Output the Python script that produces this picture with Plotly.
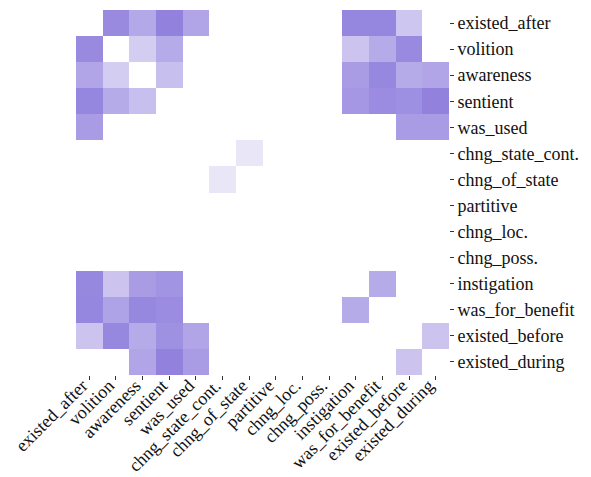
import plotly.graph_objects as go

labels = ["existed_after", "volition", "awareness", "sentient", "was_used",
          "chng_state_cont.", "chng_of_state", "partitive", "chng_loc.", "chng_poss.",
          "instigation", "was_for_benefit", "existed_before", "existed_during"]

row_existed_after   = [0, .94, .70, 1.0, .72, 0, 0, 0, 0, 0, .97, .97, .46, 0]
row_volition        = [.94, 0, .40, .67, 0, 0, 0, 0, 0, 0, .47, .67, .94, 0]
row_awareness       = [.72, .40, 0, .51, 0, 0, 0, 0, 0, 0, .79, .96, .67, .72]
row_sentient        = [.97, .67, .51, 0, 0, 0, 0, 0, 0, 0, .83, .92, .90, 1.0]
row_was_used        = [.79, 0, 0, 0, 0, 0, 0, 0, 0, 0, 0, 0, .79, .79]
row_chng_state_cont = [0, 0, 0, 0, 0, 0, .2, 0, 0, 0, 0, 0, 0, 0]
row_chng_of_state   = [0, 0, 0, 0, 0, .2, 0, 0, 0, 0, 0, 0, 0, 0]
row_partitive       = [0] * 14
row_chng_loc        = [0] * 14
row_chng_poss       = [0] * 14
row_instigation     = [.96, .47, .79, .86, 0, 0, 0, 0, 0, 0, 0, .67, 0, 0]
row_was_for_benefit = [.97, .74, .96, .92, 0, 0, 0, 0, 0, 0, .67, 0, 0, 0]
row_existed_before  = [.47, .96, .67, .88, .72, 0, 0, 0, 0, 0, 0, 0, 0, .47]
row_existed_during  = [0, 0, .72, 1.0, .79, 0, 0, 0, 0, 0, 0, 0, .47, 0]

z = [row_existed_after, row_volition, row_awareness, row_sentient, row_was_used,
     row_chng_state_cont, row_chng_of_state, row_partitive, row_chng_loc, row_chng_poss,
     row_instigation, row_was_for_benefit, row_existed_before, row_existed_during]

fig = go.Figure(go.Heatmap(
    z=z, x=labels, y=labels,
    zmin=0, zmax=1,
    colorscale=[[0, "#ffffff"], [1, "#9282de"]],
    showscale=False,
))

font = dict(family="Liberation Serif", size=18, color="#111111")
fig.update_layout(
    width=583, height=469,
    margin=dict(l=68, r=142, t=2, b=102),
    paper_bgcolor="white", plot_bgcolor="white",
    font=font,
)
fig.update_xaxes(
    tickangle=-45, ticks="outside", ticklen=4, tickwidth=1, tickcolor="#333333",
    showgrid=False, zeroline=False, showline=False, tickfont=font, automargin=False,
    ticklabelstandoff=-12, ticklabelshift=-7,
)
fig.update_yaxes(
    side="right", autorange="reversed", ticks="outside", ticklen=4, tickwidth=1,
    tickcolor="#333333", showgrid=False, zeroline=False, showline=False, tickfont=font,
    automargin=False,
)

fig.write_html("out.html")
